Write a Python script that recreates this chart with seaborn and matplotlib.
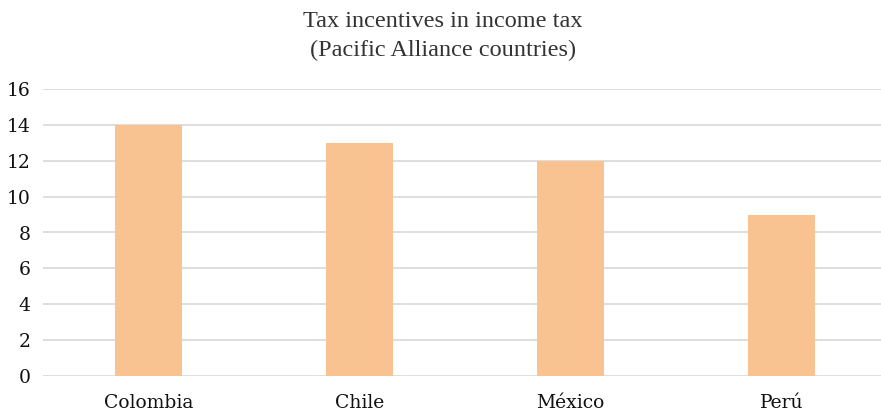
import matplotlib
matplotlib.use("Agg")
import matplotlib.pyplot as plt
import seaborn as sns
import pandas as pd

countries = ["Colombia", "Chile", "México", "Perú"]
incentives = [14, 13, 12, 9]
yticks = [0, 2, 4, 6, 8, 10, 12, 14, 16]

sns.set_style("white")
plt.rcParams['font.family'] = ['DejaVu Serif']

df = pd.DataFrame({"country": countries, "value": incentives})

fig = plt.figure(figsize=(8.81, 4.11), dpi=100)
ax = fig.add_axes([43/881, 35/411, 838/881, 287/411])
sns.barplot(data=df, x="country", y="value", color="#F8C291", saturation=1,
            width=0.316, ax=ax, zorder=3, linewidth=0, edgecolor="none")
ax.set_xlim(-0.5, 3.47)
ax.set_ylim(0, 16)
ax.set_yticks(yticks)
ax.yaxis.grid(True, color="#dedede", linewidth=1.4, zorder=0)
ax.set_axisbelow(True)
for s in ax.spines.values():
    s.set_visible(False)
ax.tick_params(axis="both", length=0, labelsize=13.5, colors="#111111")
ax.tick_params(axis="x", pad=13)
ax.tick_params(axis="y", pad=9)
ax.set_xlabel("")
ax.set_ylabel("")
fig.text(443/881, 1 - 36/411, "Tax incentives in income tax\n(Pacific Alliance countries)",
         ha="center", va="center", fontsize=17.5, family="Liberation Serif",
         color="#333333", linespacing=1.45)
fig.savefig("out.png", dpi=100)
